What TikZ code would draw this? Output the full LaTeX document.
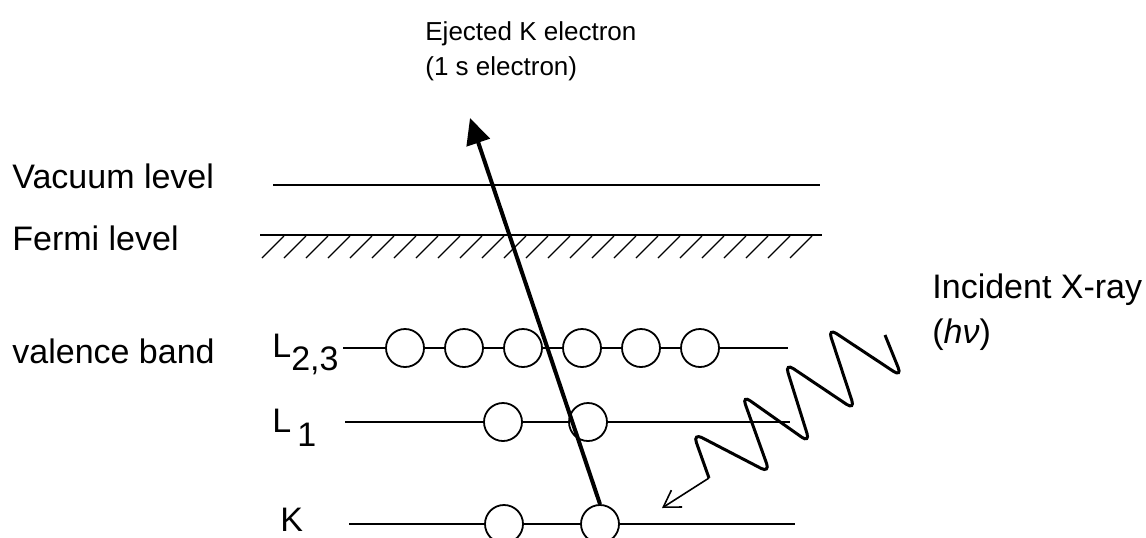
\documentclass[tikz,border=0pt]{standalone}
\usepackage{fontspec}
\setmainfont{Liberation Sans}
\usetikzlibrary{arrows.meta,positioning}
\tikzset{
  lvl/.style={line width=0.8pt},
  orb/.style={draw, circle, fill=white, minimum size=19pt, inner sep=0pt, line width=0.9pt},
  lbl/.style={font=\fontsize{17}{20}\selectfont, inner sep=0pt, anchor=base west},
  small/.style={font=\fontsize{13}{16}\selectfont, inner sep=0pt, anchor=base west},
  hatch/.style={line width=0.6pt},
  wave/.style={line width=1.5pt, rounded corners=5pt},
  eject/.style={line width=2pt, -{Triangle[length=13pt,width=12pt]}}
}

\begin{document}
\begin{tikzpicture}[x=0.5pt, y=-0.5pt]
\path[use as bounding box] (0,0) rectangle (1146,537);

% labels on the left
\node[lbl] (vac) at (12,188) {Vacuum level};
\node[lbl] (fer) at (12,250) {Fermi level};
\node[lbl] (val) at (12,363) {valence band};
\node[lbl] (nl23) at (272,357) {L\raisebox{-6.5pt}{2,3}};
\node[lbl] (nl1) at (272,432) {L\hspace{3pt}\raisebox{-7pt}{1}};
\node[lbl] (nk) at (280,531) {K};

% levels
\coordinate (vacs) at (273,185); \coordinate (vace) at (820,185);
\coordinate (fers) at (260,235); \coordinate (fere) at (822,235);
\coordinate (l23s) at (343,348); \coordinate (l23e) at (788,348);
\coordinate (l1s) at (345,422);  \coordinate (l1e) at (790,422);
\coordinate (ks) at (349,524);   \coordinate (ke) at (795,524);
\draw[lvl] (vacs) -- (vace);
\draw[lvl] (fers) -- (fere);
\foreach \x in {262,284,...,800}
  \draw[hatch] (\x,258) -- ++(22,-22);
\draw[lvl] (l23s) -- (l23e);
\draw[lvl] (l1s) -- (l1e);
\draw[lvl] (ks) -- (ke);

% electrons
\foreach \n/\x in {a/405,b/464,c/523,d/582,e/641,f/700}
  \node[orb] (l23\n) at (\x,348) {};
\node[orb] (l1a) at (503,422) {};
\node[orb] (l1b) at (588,422) {};
\node[orb] (ka) at (504,524) {};
\node[orb] (kb) at (600,524) {};

% ejected electron
\coordinate (tip) at (470,118);
\draw[eject] (kb.north) -- (tip);
\node[small] (ej) at (425,40) {Ejected K electron};
\node[small] (ej2) at (425,75) {(1 s electron)};

% incident x-ray
\coordinate (ws) at (885,335);
\coordinate (we) at (709,478);
\coordinate (wt) at (662,508);
\draw[wave] (ws) -- (902,377) -- (828,328) -- (855,410) -- (785,363) -- (810,443)
  -- (742,395) -- (770,473) -- (693,433) -- (we);
\draw[line width=0.8pt, -{Straight Barb[length=8pt,width=10pt]}] (we) -- (wt);
\node[lbl] (xr) at (932,298) {Incident X-ray};
\node[lbl] (hv) at (932,343) {(\textit{hν})};
\end{tikzpicture}
\end{document}
